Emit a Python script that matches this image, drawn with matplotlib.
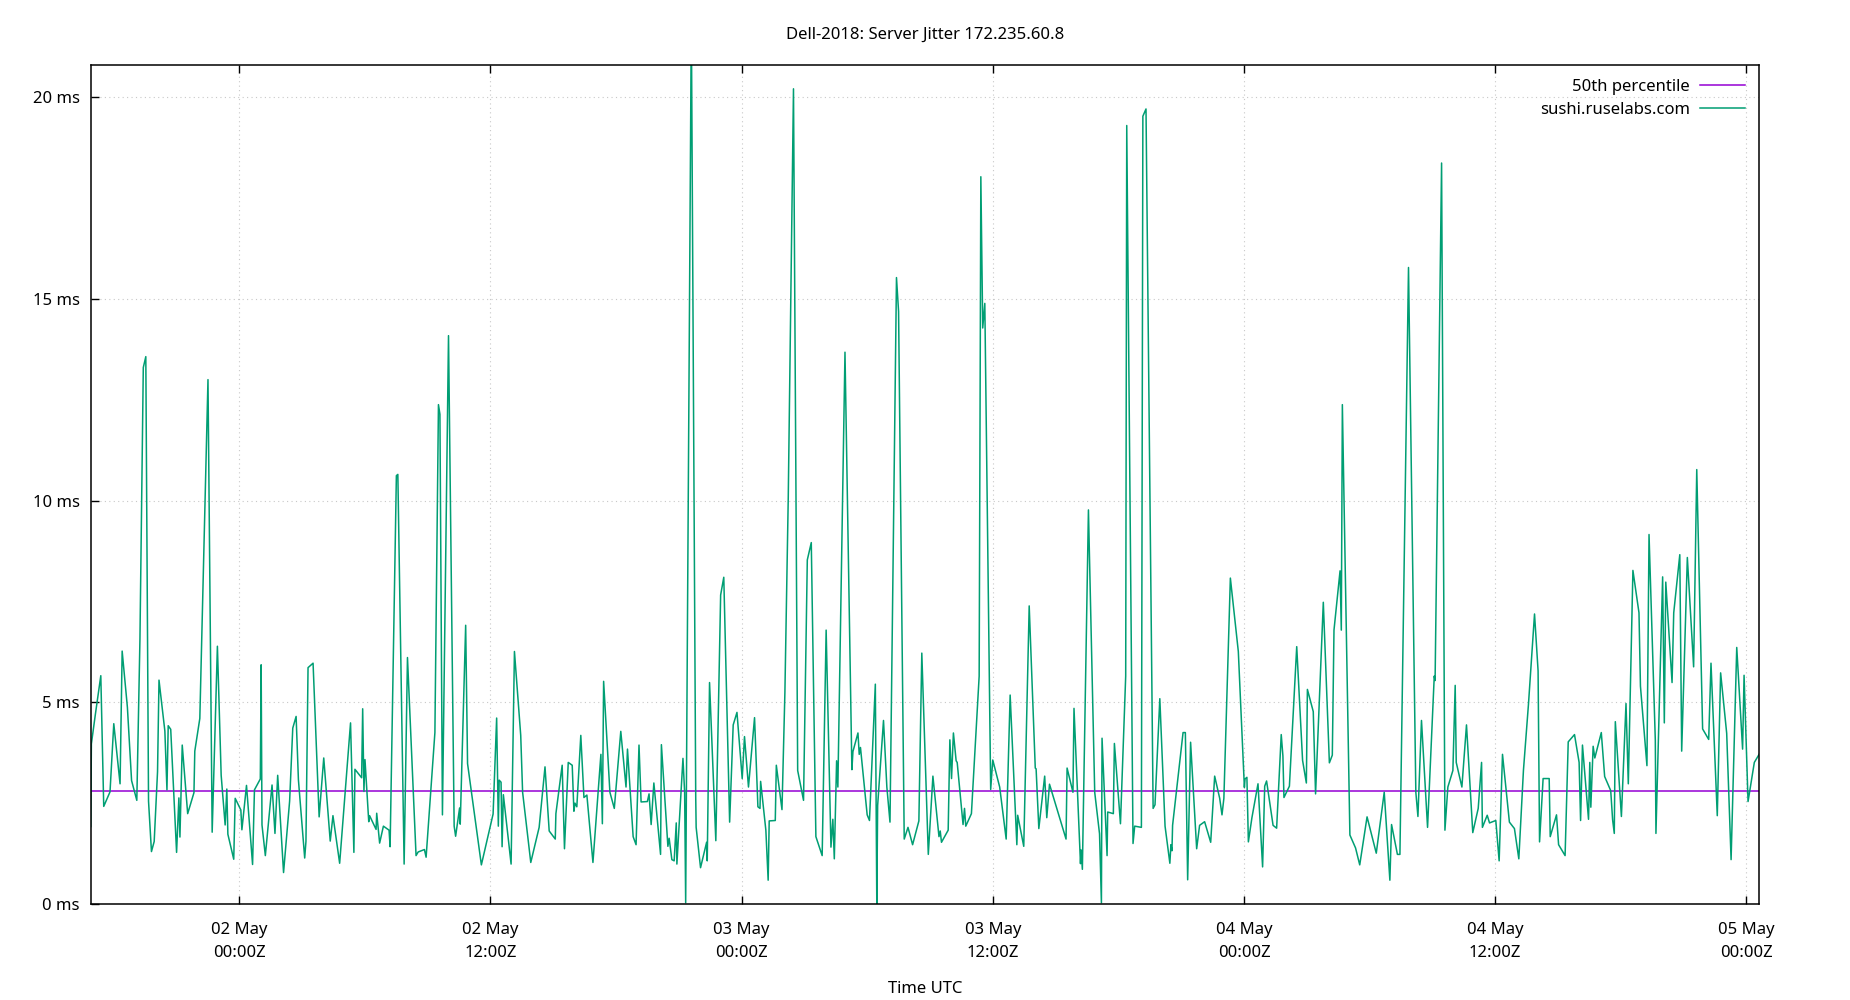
import numpy as np
import matplotlib
matplotlib.use("Agg")
import matplotlib.pyplot as plt
import matplotlib.dates as mdates

plt.rcParams['font.family'] = ['Noto Sans', 'DejaVu Sans']

TITLE = "Dell-2018: Server Jitter 172.235.60.8"
SERIES_NAME = "sushi.ruselabs.com"
MEDIAN_NAME = "50th percentile"
BASE_TIME = np.datetime64("2024-05-02T00:00")

# hours relative to 02 May 00:00Z
hours = [
    -7.09, -7.06, -6.87, -6.61, -6.47, -6.17, -5.99, -5.69, -5.59, -5.34,
    -5.14, -4.89, -4.74, -4.58, -4.46, -4.33, -4.19, -4.06, -3.90, -3.83,
    -3.55, -3.45, -3.39, -3.27, -2.99, -2.88, -2.83, -2.72, -2.46, -2.16,
    -2.12, -1.88, -1.63, -1.49, -1.29, -1.04, -0.86, -0.67, -0.59, -0.54,
    -0.26, -0.19, 0.08, 0.13, 0.35, 0.64, 0.73, 1.01, 1.05, 1.09,
    1.25, 1.57, 1.71, 1.84, 2.12, 2.41, 2.56, 2.72, 2.83, 3.13,
    3.19, 3.29, 3.53, 3.82, 4.04, 4.35, 4.48, 4.80, 5.32, 5.48,
    5.53, 5.85, 5.90, 5.96, 6.01, 6.19, 6.23, 6.54, 6.57, 6.71,
    6.89, 7.16, 7.21, 7.51, 7.58, 7.88, 8.04, 8.45, 8.55, 8.85,
    8.93, 9.35, 9.52, 9.59, 9.71, 10.00, 10.27, 10.34, 10.53, 10.56,
    10.82, 10.91, 11.57, 12.13, 12.30, 12.38, 12.42, 12.51, 12.56, 12.62,
    12.99, 13.15, 13.45, 13.54, 13.93, 14.33, 14.61, 14.81, 15.10, 15.13,
    15.43, 15.54, 15.72, 15.91, 15.99, 16.04, 16.13, 16.32, 16.47, 16.61,
    16.90, 17.28, 17.35, 17.41, 17.71, 17.92, 18.23, 18.48, 18.55, 18.82,
    18.96, 19.10, 19.20, 19.50, 19.58, 19.68, 19.81, 20.13, 20.17, 20.48,
    20.54, 20.67, 20.78, 20.88, 20.91, 21.20, 21.28, 21.33, 21.60, 21.81,
    21.83, 22.04, 22.33, 22.36, 22.47, 22.77, 23.00, 23.15, 23.43, 23.60,
    23.78, 24.03, 24.14, 24.33, 24.62, 24.78, 24.88, 24.91, 25.16, 25.27,
    25.32, 25.61, 25.66, 25.93, 26.07, 26.23, 26.48, 26.68, 26.96, 27.14,
    27.33, 27.55, 27.85, 28.04, 28.27, 28.36, 28.43, 28.54, 28.60, 28.94,
    29.27, 29.32, 29.56, 29.62, 29.68, 30.00, 30.11, 30.39, 30.46, 30.50,
    30.78, 30.94, 31.09, 31.40, 31.50, 31.77, 31.95, 32.17, 32.47, 32.61,
    32.92, 33.14, 33.43, 33.49, 33.55, 33.87, 33.95, 34.03, 34.12, 34.25,
    34.30, 34.58, 34.65, 34.71, 34.98, 35.35, 35.43, 35.52, 35.62, 35.90,
    36.00, 36.33, 36.64, 36.83, 37.15, 37.19, 37.48, 37.74, 38.03, 38.07,
    38.20, 38.48, 38.58, 38.71, 39.50, 39.55, 39.83, 39.88, 40.19, 40.22,
    40.28, 40.57, 40.87, 41.10, 41.19, 41.22, 41.46, 41.49, 41.76, 41.81,
    42.10, 42.35, 42.40, 42.70, 42.78, 43.10, 43.17, 43.32, 43.66, 43.75,
    43.98, 44.23, 44.46, 44.51, 44.56, 44.59, 45.09, 45.20, 45.31, 45.45,
    45.74, 45.88, 46.12, 46.41, 46.60, 46.84, 46.95, 47.04, 47.35, 47.73,
    48.02, 48.05, 48.14, 48.21, 48.38, 48.67, 48.89, 48.99, 49.08, 49.39,
    49.56, 49.78, 49.86, 49.91, 50.17, 50.52, 50.80, 50.98, 51.03, 51.31,
    51.42, 51.79, 52.08, 52.22, 52.30, 52.59, 52.65, 52.70, 53.06, 53.33,
    53.53, 53.88, 54.32, 54.70, 54.97, 55.05, 55.33, 55.45, 55.86, 56.21,
    56.31, 56.48, 56.77, 57.09, 57.13, 57.44, 57.60, 57.74, 57.98, 58.09,
    58.14, 58.41, 58.63, 58.93, 59.19, 59.35, 59.39, 59.62, 59.73, 60.03,
    60.19, 60.35, 60.68, 60.92, 61.13, 61.35, 61.59, 61.88, 62.05, 62.12,
    62.29, 62.58, 62.63, 62.93, 63.03, 63.34, 63.49, 63.79, 64.01, 64.08,
    64.17, 64.46, 64.52, 64.57, 64.68, 64.76, 65.07, 65.23, 65.52, 65.61,
    65.69, 65.74, 66.03, 66.25, 66.36, 66.58, 66.87, 66.94, 67.25, 67.35,
    67.65, 67.68, 68.00, 68.08, 68.15, 68.45, 68.53, 68.82, 68.91, 69.18,
    69.48, 69.63, 69.91, 70.20, 70.31, 70.61, 70.77, 71.06, 71.27, 71.54,
    71.82, 71.89, 72.08, 72.38, 72.62,
]

jitter_ms = [
    1.92, 3.97, 4.70, 5.66, 2.42, 2.78, 4.47, 2.98, 6.27, 4.88,
    3.06, 2.57, 6.57, 13.30, 13.57, 2.55, 1.30, 1.55, 3.28, 5.55,
    4.29, 2.83, 4.42, 4.33, 1.28, 2.63, 1.66, 3.94, 2.24, 2.76,
    3.79, 4.60, 10.00, 13.00, 1.78, 6.39, 3.19, 1.96, 2.85, 1.73,
    1.11, 2.62, 2.33, 1.84, 2.94, 0.98, 2.83, 3.10, 5.93, 1.96,
    1.20, 2.95, 1.75, 3.19, 0.78, 2.55, 4.36, 4.65, 3.08, 1.14,
    1.55, 5.86, 5.97, 2.16, 3.62, 1.56, 2.19, 1.01, 4.49, 1.28,
    3.34, 3.13, 4.84, 2.79, 3.58, 2.04, 2.19, 1.85, 2.25, 1.51,
    1.93, 1.83, 1.42, 10.62, 10.65, 0.99, 6.11, 1.20, 1.29, 1.35,
    1.16, 4.25, 12.38, 12.14, 2.21, 14.09, 1.93, 1.68, 2.38, 1.98,
    6.91, 3.48, 0.97, 2.23, 4.61, 1.93, 3.07, 3.02, 1.42, 2.71,
    0.99, 6.26, 4.18, 2.77, 1.03, 1.90, 3.40, 1.81, 1.61, 2.24,
    3.44, 1.37, 3.51, 3.44, 2.30, 2.50, 2.41, 4.18, 2.64, 2.70,
    1.03, 3.71, 1.99, 5.52, 2.77, 2.37, 4.28, 2.90, 3.84, 1.67,
    1.47, 3.94, 2.53, 2.54, 2.73, 1.97, 3.00, 1.23, 3.95, 1.43,
    1.63, 1.10, 1.07, 2.01, 0.99, 3.61, 2.77, 0.03, 22.00, 2.64,
    1.90, 0.90, 1.53, 1.07, 5.49, 1.57, 7.66, 8.10, 2.03, 4.44,
    4.75, 3.11, 4.15, 2.90, 4.62, 2.41, 2.37, 3.04, 1.83, 0.59,
    2.06, 2.07, 3.44, 2.34, 5.25, 10.07, 20.21, 3.31, 2.57, 8.53,
    8.96, 1.67, 1.20, 6.79, 1.41, 2.10, 1.12, 3.55, 2.90, 13.68,
    3.33, 3.78, 4.24, 3.71, 3.88, 2.21, 2.07, 5.45, 0.00, 2.44,
    4.55, 2.90, 2.03, 15.53, 14.69, 1.61, 1.90, 1.47, 2.06, 6.22,
    1.23, 3.17, 1.67, 1.81, 1.53, 1.83, 4.07, 3.11, 4.24, 3.55,
    3.51, 1.97, 2.37, 1.93, 2.24, 5.65, 18.03, 14.28, 14.89, 2.84,
    3.57, 2.90, 1.61, 5.18, 1.47, 2.20, 1.43, 7.39, 3.37, 3.35,
    1.87, 3.17, 2.14, 2.97, 1.61, 3.37, 2.77, 4.85, 1.00, 1.34,
    0.86, 9.77, 2.77, 1.74, 0.03, 4.11, 1.20, 2.28, 2.24, 3.98,
    1.99, 5.65, 19.30, 1.50, 1.93, 1.90, 19.53, 19.71, 2.37, 2.46,
    5.09, 1.93, 1.01, 1.47, 1.32, 1.95, 4.25, 4.25, 0.60, 4.01,
    1.37, 1.95, 2.04, 1.53, 3.17, 2.62, 2.21, 2.62, 8.08, 6.26,
    2.89, 3.10, 3.14, 1.54, 2.14, 2.98, 0.92, 2.92, 3.05, 1.95,
    1.88, 4.20, 3.67, 2.64, 2.92, 6.38, 3.56, 3.00, 5.32, 4.77,
    2.73, 7.48, 3.50, 3.69, 6.79, 8.26, 6.79, 12.38, 1.71, 1.39,
    0.97, 2.16, 1.26, 2.77, 0.59, 1.97, 1.23, 1.23, 15.78, 2.77,
    2.17, 4.55, 1.90, 5.65, 5.54, 18.37, 1.83, 2.90, 3.31, 5.42,
    3.51, 2.90, 4.44, 1.77, 2.37, 3.51, 1.90, 2.20, 2.01, 2.07,
    1.07, 3.71, 2.03, 1.87, 1.12, 3.31, 4.95, 7.19, 5.78, 1.54,
    3.11, 3.11, 1.67, 2.21, 1.47, 1.20, 4.02, 4.20, 3.51, 2.07,
    3.94, 2.10, 3.51, 2.40, 3.91, 3.62, 4.25, 3.16, 2.81, 2.09,
    1.75, 4.52, 2.17, 4.97, 2.98, 8.27, 7.22, 5.40, 3.43, 9.16,
    4.06, 1.75, 8.11, 4.49, 7.98, 5.49, 7.22, 8.66, 3.79, 8.59,
    5.88, 10.77, 4.34, 4.08, 5.97, 2.19, 5.73, 4.23, 1.10, 6.36,
    3.84, 5.67, 2.54, 3.51, 3.72,
]

median_ms = 2.81
x_start_h, x_end_h = -7.095, 72.62
y_max = 20.8


def to_time(h):
    return BASE_TIME + (np.asarray(h) * 3600).astype("timedelta64[s]")


times = to_time(hours)

fig = plt.figure(figsize=(18.5, 10), dpi=100)
ax = fig.add_axes([0.049, 0.096, 0.902, 0.839])

ax.plot(times, [median_ms] * len(times), color="#9400d3", lw=1.1, label=MEDIAN_NAME)
ax.plot(times, jitter_ms, color="#009e73", lw=1.1, label=SERIES_NAME)

ax.set_xlim(to_time(x_start_h), to_time(x_end_h))
ax.set_ylim(0, y_max)

ax.xaxis.set_major_locator(mdates.HourLocator(byhour=[0, 12]))
ax.xaxis.set_major_formatter(mdates.DateFormatter("%d %b\n%H:%MZ"))
ax.set_yticks([0, 5, 10, 15, 20])
ax.set_yticklabels([f"{v} ms" for v in [0, 5, 10, 15, 20]])

ax.tick_params(axis="x", direction="in", length=6, width=1, top=True,
               labelsize=12, pad=13)
ax.tick_params(axis="y", direction="in", length=6, width=1, right=False,
               labelsize=12, pad=8)
for lbl in ax.get_xticklabels():
    lbl.set_linespacing(1.6)

ax.grid(True, color="#c8c8c8", linestyle=(0, (1, 3)), linewidth=0.8)
for sp in ax.spines.values():
    sp.set_linewidth(1.1)

ax.set_xlabel("Time UTC", fontsize=12, labelpad=14)
fig.text(0.5, 0.965, TITLE, ha="center", va="center", fontsize=12)

leg = ax.legend(loc="upper right", frameon=False, markerfirst=False,
                fontsize=12, handlelength=2.7, labelspacing=0.4,
                borderaxespad=0.45, handletextpad=0.6)

fig.savefig("out.png", dpi=100)
